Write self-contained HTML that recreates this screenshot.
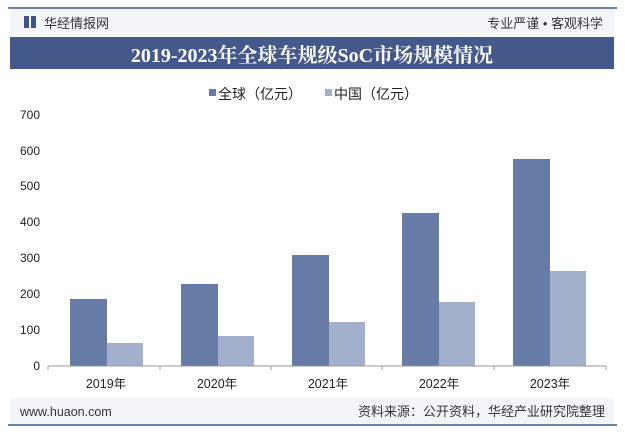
<!DOCTYPE html><html><head><meta charset="utf-8"><style>
body{margin:0;width:625px;height:437px;background:#fff;overflow:hidden;font-family:"Liberation Sans","Noto Sans CJK SC",sans-serif}
</style></head><body>
<svg width="625" height="437" xmlns="http://www.w3.org/2000/svg" font-family="Liberation Sans, Noto Sans CJK SC, sans-serif">
<rect x="10" y="8" width="605" height="28" fill="#f3f5f9"/>
<line x1="8" y1="8" x2="617" y2="8" stroke="#44598a" stroke-width="1.5"/>
<rect x="24" y="16" width="5" height="12" fill="#3f5585"/><rect x="31" y="16" width="5" height="12" fill="#3f5585"/>
<text x="44" y="28" font-size="13" fill="#333">华经情报网</text>
<text x="603" y="28" font-size="13" fill="#333" text-anchor="end">专业严谨 • 客观科学</text>
<rect x="10" y="37" width="604" height="32" fill="#44598a"/>
<text x="312" y="62" font-size="20" font-weight="bold" fill="#fff" text-anchor="middle" font-family="Liberation Serif, Noto Serif CJK SC, serif">2019-2023年全球车规级SoC市场规模情况</text>
<rect x="209" y="89" width="7" height="7" fill="#667ba5"/><text x="218" y="99" font-size="14" fill="#222">全球（亿元）</text>
<rect x="325" y="89" width="7" height="7" fill="#a3b0cb"/><text x="334" y="99" font-size="14" fill="#222">中国（亿元）</text>
<g font-size="12" fill="#222" text-anchor="end">
<text x="40" y="370">0</text><text x="40" y="334">100</text><text x="40" y="298">200</text><text x="40" y="262">300</text><text x="40" y="226">400</text><text x="40" y="190">500</text><text x="40" y="155">600</text><text x="40" y="119">700</text>
</g>
<g>
<rect x="70" y="299" width="37" height="67" fill="#667ba5"/><rect x="107" y="343" width="36" height="23" fill="#a3b0cb"/>
<rect x="181" y="284" width="37" height="82" fill="#667ba5"/><rect x="218" y="336" width="36" height="30" fill="#a3b0cb"/>
<rect x="292" y="255" width="37" height="111" fill="#667ba5"/><rect x="329" y="322" width="36" height="44" fill="#a3b0cb"/>
<rect x="402" y="213" width="37" height="153" fill="#667ba5"/><rect x="439" y="302" width="36" height="64" fill="#a3b0cb"/>
<rect x="513" y="159" width="37" height="207" fill="#667ba5"/><rect x="550" y="271" width="36" height="95" fill="#a3b0cb"/>
</g>
<line x1="48" y1="366" x2="606" y2="366" stroke="#999"/>
<g stroke="#999"><line x1="48" y1="366" x2="48" y2="370"/><line x1="160" y1="366" x2="160" y2="370"/><line x1="271" y1="366" x2="271" y2="370"/><line x1="382" y1="366" x2="382" y2="370"/><line x1="494" y1="366" x2="494" y2="370"/><line x1="606" y1="366" x2="606" y2="370"/></g>
<g font-size="12.5" fill="#222" text-anchor="middle">
<text x="106" y="388">2019年</text><text x="217" y="388">2020年</text><text x="328" y="388">2021年</text><text x="439" y="388">2022年</text><text x="550" y="388">2023年</text>
</g>
<rect x="10" y="398" width="604" height="27" fill="#f3f5f9"/>
<line x1="8" y1="425" x2="617" y2="425" stroke="#44598a" stroke-width="1.5"/>
<text x="20" y="416" font-size="12.5" fill="#333">www.huaon.com</text>
<text x="605" y="416" font-size="13" fill="#333" text-anchor="end">资料来源：公开资料，华经产业研究院整理</text>
</svg>
</body></html>
